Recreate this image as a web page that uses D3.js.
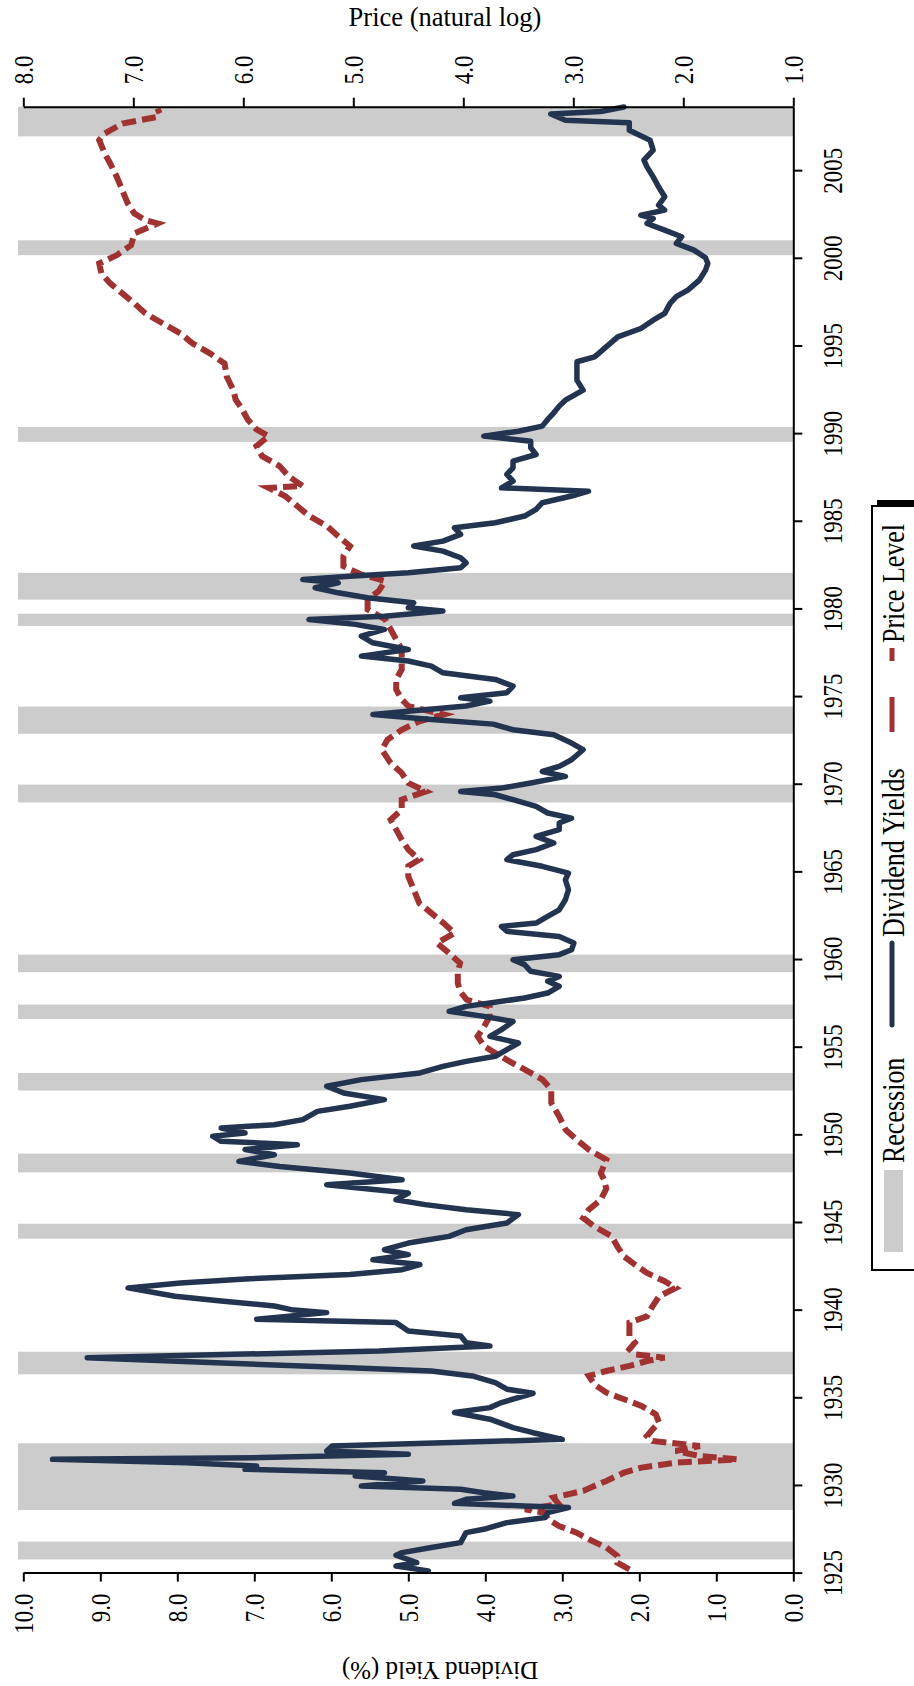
<!DOCTYPE html>
<html>
<head>
<meta charset="utf-8">
<script src="https://cdn.jsdelivr.net/npm/d3@7"></script>
<style>
  html, body { margin: 0; padding: 0; background: #ffffff; }
  svg { display: block; font-family: "Liberation Serif", "Times New Roman", serif; }
</style>
</head>
<body>
<svg id="chart" width="914" height="1686"></svg>
<script>
// ---------------- DATA ----------------
const yearTicks = [1925, 1930, 1935, 1940, 1945, 1950, 1955, 1960, 1965, 1970, 1975, 1980, 1985, 1990, 1995, 2000, 2005];
const yieldTicks = [0, 1, 2, 3, 4, 5, 6, 7, 8, 9, 10];
const priceTicks = [1, 2, 3, 4, 5, 6, 7, 8];

const recessionStart = [1925.75, 1928.57, 1936.31, 1944.05, 1947.83, 1952.5, 1956.58, 1959.25, 1968.93, 1972.85, 1979.0, 1980.5, 1989.5, 2000.15, 2006.93];
const recessionEnd   = [1926.77, 1932.38, 1937.6, 1944.9, 1948.9, 1953.5, 1957.4, 1960.25, 1969.95, 1974.4, 1979.7, 1982.03, 1990.35, 2001.0, 2008.65];

const divYears = [1925.10,1925.38,1925.57,1925.99,1926.14,1926.43,1926.71,1927.28,1927.47,1927.85,1928.14,1928.42,1928.71,1928.80,1928.95,1929.18,1929.37,1929.56,1929.75,1929.94,1930.23,1930.51,1930.70,1930.89,1931.08,1931.27,1931.46,1931.56,1931.75,1931.94,1932.22,1932.41,1932.60,1932.98,1933.27,1933.75,1934.13,1934.41,1934.70,1935.23,1935.46,1935.84,1936.22,1936.50,1936.69,1936.98,1937.26,1937.45,1937.64,1937.93,1938.12,1938.50,1938.78,1939.26,1939.45,1939.83,1940.0,1940.21,1940.49,1940.76,1941.24,1941.52,1941.75,1942.0,1942.28,1942.57,1942.85,1943.14,1943.42,1943.80,1944.18,1944.56,1944.94,1945.42,1945.70,1945.99,1946.27,1946.65,1947.13,1947.41,1947.79,1948.17,1948.46,1948.84,1949.13,1949.41,1949.60,1949.89,1950.08,1950.36,1950.55,1950.84,1951.31,1951.60,1951.98,1952.36,1952.74,1953.12,1953.50,1953.88,1954.16,1954.45,1954.83,1955.21,1955.59,1955.97,1956.44,1956.73,1957.02,1957.30,1957.49,1957.78,1958.06,1958.44,1958.73,1959.01,1959.30,1959.68,1959.96,1960.25,1960.53,1960.91,1961.29,1961.58,1961.86,1962.05,1962.43,1962.81,1963.38,1963.95,1964.52,1964.90,1965.29,1965.67,1965.95,1966.24,1966.62,1967.0,1967.38,1967.76,1968.04,1968.33,1968.71,1969.09,1969.37,1969.56,1969.75,1970.04,1970.42,1970.70,1970.99,1971.37,1971.94,1972.32,1972.79,1973.08,1973.40,1973.67,1973.95,1974.14,1974.43,1974.71,1974.90,1975.19,1975.57,1975.95,1976.33,1976.71,1977.0,1977.28,1977.66,1978.04,1978.42,1978.80,1979.09,1979.37,1979.56,1979.85,1980.04,1980.32,1980.61,1980.89,1981.18,1981.46,1981.65,1981.84,1982.03,1982.32,1982.60,1982.89,1983.27,1983.56,1983.84,1984.22,1984.60,1984.89,1985.27,1985.65,1986.03,1986.41,1986.69,1986.88,1987.26,1987.64,1988.02,1988.40,1988.78,1989.16,1989.54,1989.83,1990.11,1990.40,1990.78,1991.16,1991.54,1991.88,1992.45,1993.02,1993.59,1994.07,1994.35,1994.92,1995.49,1995.97,1996.44,1996.83,1997.40,1997.78,1998.16,1998.73,1999.30,1999.68,2000.0,2000.44,2000.82,2001.2,2001.58,2001.96,2002.24,2002.43,2002.72,2003.0,2003.48,2004.05,2004.62,2005.19,2005.57,2006.14,2006.71,2007.28,2007.70,2007.85,2008.2,2008.35,2008.6];
const divValues = [4.74,5.16,4.89,5.16,5.08,4.70,4.32,4.25,4.02,3.72,3.22,3.19,2.92,3.49,4.40,4.25,3.64,4.02,4.32,5.61,4.81,5.69,5.31,7.12,6.97,7.88,9.62,6.90,5.00,6.06,5.99,4.55,3.00,3.38,3.64,3.94,4.40,3.94,3.79,3.38,3.72,3.87,4.17,4.70,5.76,7.58,9.17,7.27,5.38,3.94,4.25,4.32,5.00,5.16,6.97,6.06,6.52,6.74,7.43,8.03,8.64,7.96,7.12,5.76,5.08,4.85,5.46,5.00,5.31,5.00,4.47,4.25,3.72,3.57,4.25,4.78,5.16,5.00,6.06,5.08,5.76,6.67,7.20,6.74,7.12,6.44,7.43,7.54,7.12,7.43,6.74,6.37,6.18,5.76,5.31,5.84,6.06,5.61,4.85,4.55,4.25,3.87,3.72,3.57,3.94,3.79,3.64,4.02,4.47,4.25,3.94,3.49,3.19,3.04,3.19,3.04,3.41,3.49,3.64,3.04,2.88,2.85,3.04,3.72,3.79,3.34,3.19,3.04,2.96,2.92,2.96,2.92,3.26,3.72,3.64,3.34,3.11,3.34,3.04,3.04,2.88,3.19,3.34,3.64,3.87,4.32,3.79,3.41,2.96,3.26,3.04,2.88,2.73,2.88,3.11,3.64,3.90,4.70,5.46,5.00,4.25,3.94,4.32,3.72,3.64,3.87,4.55,4.70,5.00,5.61,5.00,5.46,5.61,5.31,5.69,6.29,5.31,4.55,5.00,4.93,5.53,5.91,6.21,5.91,6.37,5.76,5.00,4.32,4.25,4.32,4.55,4.93,4.55,4.32,4.40,3.87,3.49,3.34,3.26,2.88,2.66,3.79,3.64,3.72,3.64,3.64,3.34,3.41,3.41,4.02,3.57,3.26,3.19,3.11,3.04,2.96,2.73,2.81,2.81,2.81,2.58,2.43,2.28,1.98,1.82,1.67,1.60,1.52,1.37,1.22,1.14,1.11,1.14,1.29,1.52,1.45,1.67,1.90,1.82,1.98,1.67,1.75,1.67,1.75,1.82,1.90,1.94,1.82,1.86,2.13,2.13,2.96,3.15,2.50,2.20];

const priceYears = [1925.19,1925.57,1925.95,1926.43,1926.90,1927.28,1927.66,1928.04,1928.42,1928.61,1928.90,1929.28,1929.66,1929.94,1930.23,1930.70,1930.99,1931.27,1931.46,1931.65,1931.94,1932.22,1932.51,1932.79,1933.17,1933.56,1934.03,1934.51,1934.89,1935.27,1935.74,1936.22,1936.50,1936.79,1937.07,1937.26,1937.45,1937.74,1938.12,1938.50,1938.88,1939.26,1939.62,1940.19,1940.76,1941.24,1941.62,1942.09,1942.57,1943.04,1943.61,1944.18,1944.75,1945.23,1945.70,1946.27,1946.90,1947.40,1947.79,1948.55,1949.13,1949.70,1950.27,1951.03,1951.79,1952.55,1953.12,1953.69,1954.16,1954.64,1955.02,1955.59,1956.16,1956.73,1957.30,1957.68,1958.16,1958.63,1959.20,1959.77,1960.34,1960.91,1961.48,1962.05,1962.62,1963.19,1963.95,1964.71,1965.29,1965.67,1966.24,1966.81,1967.38,1967.95,1968.52,1969.09,1969.56,1970.04,1970.61,1971.18,1971.94,1972.51,1973.08,1973.56,1973.95,1974.43,1974.81,1975.38,1975.95,1976.52,1977.09,1977.66,1978.23,1978.80,1979.37,1979.94,1980.51,1980.99,1981.56,1981.94,1982.41,1982.98,1983.56,1984.13,1984.70,1985.27,1985.84,1986.41,1986.88,1986.98,1987.55,1988.12,1988.69,1989.26,1989.83,1990.21,1990.78,1991.35,1991.92,1992.45,1993.21,1993.97,1994.54,1995.11,1995.68,1996.25,1996.83,1997.40,1997.97,1998.54,1999.11,1999.68,2000.15,2000.72,2001.39,2001.96,2002.15,2002.53,2003.10,2003.86,2004.62,2005.38,2005.95,2006.71,2007.09,2007.66,2007.85,2008.04,2008.23,2008.52];
const priceValues = [2.49,2.60,2.60,2.70,2.86,2.97,3.13,3.23,3.26,3.44,3.13,3.18,2.91,2.81,2.70,2.54,2.38,2.07,1.51,1.85,2.07,1.85,2.28,2.33,2.28,2.22,2.25,2.38,2.54,2.70,2.81,2.86,2.70,2.49,2.33,2.17,2.44,2.49,2.44,2.49,2.49,2.49,2.33,2.28,2.22,2.07,2.17,2.33,2.44,2.54,2.60,2.65,2.81,2.91,2.86,2.75,2.70,2.72,2.75,2.70,2.86,2.97,3.07,3.13,3.20,3.20,3.28,3.44,3.58,3.71,3.81,3.87,3.81,3.76,3.76,3.97,4.03,4.05,4.05,4.03,4.13,4.24,4.08,4.18,4.29,4.40,4.45,4.50,4.50,4.40,4.50,4.56,4.61,4.66,4.56,4.56,4.34,4.50,4.56,4.66,4.74,4.69,4.56,4.40,4.18,4.50,4.56,4.61,4.61,4.56,4.56,4.56,4.61,4.66,4.71,4.87,4.87,4.77,4.71,4.93,5.09,5.09,5.03,5.14,5.24,5.40,5.51,5.62,5.77,5.46,5.59,5.67,5.83,5.88,5.77,5.88,5.96,6.01,6.07,6.09,6.15,6.17,6.30,6.46,6.57,6.73,6.89,6.99,7.10,7.21,7.29,7.31,7.15,7.02,6.99,6.78,6.89,6.99,7.05,7.10,7.15,7.21,7.26,7.31,7.26,7.10,6.94,6.78,6.76,6.78];

const legendLabels = ["Recession", "Dividend Yields", "Price Level"];

// ---------------- CHART ----------------
const navy = "#22344f", brick = "#a03232", band = "#cccccc";
const svg = d3.select("#chart");
svg.append("rect").attr("width", 914).attr("height", 1686).attr("fill", "#fff");

// Rotated chart: years run upward, values run leftward
const yScale = d3.scaleLinear().domain([1925, 2008.62]).range([1572.6, 106.7]);
const yieldScale = d3.scaleLinear().domain([0, 10]).range([793.3, 23.3]);
const priceScale = d3.scaleLinear().domain([1, 8]).range([793.3, 23.3]);

// Recession bands
svg.append("g").selectAll("rect")
  .data(recessionStart.map((s, i) => ({ s, e: recessionEnd[i] })))
  .join("rect")
  .attr("x", 18)
  .attr("width", 793.3 - 18)
  .attr("y", d => yScale(Math.min(d.e, 2008.62)))
  .attr("height", d => yScale(d.s) - yScale(Math.min(d.e, 2008.62)))
  .attr("fill", band);

// Lines
const divData = divYears.map((y, i) => ({ y, v: divValues[i] }));
const priceData = priceYears.map((y, i) => ({ y, v: priceValues[i] }));

svg.append("path").datum(priceData)
  .attr("fill", "none").attr("stroke", brick).attr("stroke-width", 6)
  .attr("stroke-dasharray", "14,6")
  .attr("d", d3.line().x(d => priceScale(d.v)).y(d => yScale(d.y)));

svg.append("path").datum(divData)
  .attr("fill", "none").attr("stroke", navy).attr("stroke-width", 5.5)
  .attr("stroke-linejoin", "round").attr("stroke-linecap", "round")
  .attr("d", d3.line().x(d => yieldScale(d.v)).y(d => yScale(d.y)));

// Axes
const fmt = d3.format(".1f");
const k = 1.15;

const yAxisG = svg.append("g").attr("transform", "translate(793.3,0)")
  .call(d3.axisRight(yScale).tickValues(yearTicks).tickSize(9).tickSizeOuter(0).tickFormat(d3.format("d")));
yAxisG.selectAll("text")
  .attr("x", null).attr("y", null).attr("dy", null)
  .attr("text-anchor", "middle")
  .attr("transform", `translate(48.7,0) rotate(-90) scale(1,${k})`);

const topAxisG = svg.append("g").attr("transform", "translate(0,106.7)")
  .call(d3.axisTop(priceScale).tickValues(priceTicks).tickSize(9).tickSizeOuter(0).tickFormat(fmt));
topAxisG.selectAll("text")
  .attr("x", null).attr("y", null).attr("dy", null)
  .attr("text-anchor", "start")
  .attr("transform", `translate(9,-22.5) rotate(-90) scale(1,${k})`);

const botAxisG = svg.append("g").attr("transform", "translate(0,1572.6)")
  .call(d3.axisBottom(yieldScale).tickValues(yieldTicks).tickSize(9).tickSizeOuter(0).tickFormat(fmt));
botAxisG.selectAll("text")
  .attr("x", null).attr("y", null).attr("dy", null)
  .attr("text-anchor", "end")
  .attr("transform", `translate(9,21) rotate(-90) scale(1,${k})`);

[yAxisG, topAxisG, botAxisG].forEach(g => {
  g.attr("font-family", "Liberation Serif, Times New Roman, serif").attr("font-size", 23);
  g.selectAll("path.domain").attr("stroke", "#000").attr("stroke-width", 2);
  g.selectAll("line").attr("stroke", "#000").attr("stroke-width", 2);
  g.selectAll("text").attr("fill", "#000");
});

// Axis titles
svg.append("text").attr("x", 445).attr("y", 26)
  .attr("text-anchor", "middle").attr("font-size", 26.5).attr("fill", "#000")
  .text("Price (natural log)");

svg.append("text")
  .attr("transform", "translate(440,1662) rotate(180)")
  .attr("text-anchor", "middle").attr("font-size", 25).attr("fill", "#000")
  .text("Dividend Yield (%)");

// Legend
const lg = svg.append("g");
lg.append("rect").attr("x", 877).attr("y", 500).attr("width", 80).attr("height", 764).attr("fill", "#000");
lg.append("rect").attr("x", 872).attr("y", 506).attr("width", 80).attr("height", 764)
  .attr("fill", "#fff").attr("stroke", "#000").attr("stroke-width", 2);

lg.append("rect").attr("x", 884).attr("y", 1170).attr("width", 19).attr("height", 82).attr("fill", band);
lg.append("line").attr("x1", 892).attr("x2", 892).attr("y1", 943).attr("y2", 1025)
  .attr("stroke", navy).attr("stroke-width", 5).attr("stroke-linecap", "round");
lg.append("line").attr("x1", 892).attr("x2", 892).attr("y1", 697).attr("y2", 732)
  .attr("stroke", brick).attr("stroke-width", 5);
lg.append("line").attr("x1", 892).attr("x2", 892).attr("y1", 648).attr("y2", 661)
  .attr("stroke", brick).attr("stroke-width", 5);

const legendPos = [1163, 937, 643];
lg.selectAll("text.leg").data(legendLabels).join("text")
  .attr("class", "leg")
  .attr("text-anchor", "start").attr("font-size", 26).attr("fill", "#000")
  .attr("transform", (d, i) => `translate(904,${legendPos[i]}) rotate(-90) scale(1,1.2)`)
  .text(d => d);
</script>
</body>
</html>
